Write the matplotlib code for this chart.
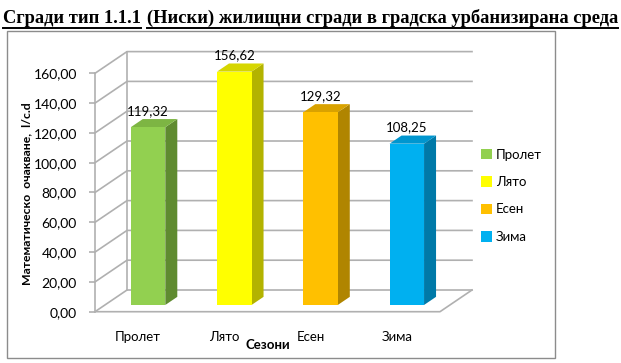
import numpy as np
import matplotlib
matplotlib.use("Agg")
import matplotlib.pyplot as plt
from matplotlib.patches import Polygon, Rectangle, Patch
from matplotlib.lines import Line2D
from matplotlib.ticker import FuncFormatter

# данни
seasons = ["Пролет", "Лято", "Есен", "Зима"]
values = [119.32, 156.62, 129.32, 108.25]
y_ticks = [0, 20, 40, 60, 80, 100, 120, 140, 160]

title_a = "Сгради тип 1.1.1"
title_b = "(Ниски) жилищни сгради в градска урбанизирана среда"
y_title = "Математическо  очакване,  l/c.d"
x_title = "Сезони"

front = ["#92D050", "#FFFF00", "#FFC000", "#00B0F0"]
side = ["#5F8B30", "#B3B300", "#B08500", "#0079A8"]
top = ["#7DB543", "#D6D600", "#D9A200", "#0096CF"]

W, H = 621, 363
FONT = "Lato"
GRID = "#B0B0B0"

# 3D дълбочина в единици на данните
DX, DY = 0.371, 14.56
d0, d1 = 0.31, 0.685
bw = 0.4

fig = plt.figure(figsize=(W / 100, H / 100), dpi=100)

# рамка на диаграмата
fig.patches.append(Rectangle((7 / W, 1 - 358 / H), 548 / W, 327.5 / H,
                             transform=fig.transFigure, fill=False,
                             edgecolor="#8C8C8C", lw=1.0))

ax = fig.add_axes([95 / W, 1 - 311.7 / H, 345 / W, 238.4 / H])
ax.set_xlim(-0.5, 3.5)
ax.set_ylim(0, 160)
ax.patch.set_visible(False)
for s in ["top", "right", "bottom"]:
    ax.spines[s].set_visible(False)
ax.spines["left"].set_color(GRID)
ax.spines["left"].set_linewidth(1.2)

# задна стена, лява стена, под
for v in y_ticks:
    ax.plot([-0.5, -0.5 + DX, 3.5 + DX], [v, v + DY, v + DY],
            color=GRID, lw=1.2, clip_on=False, zorder=1)
ax.plot([-0.5 + DX, -0.5 + DX], [DY, 160 + DY], color=GRID, lw=1.2,
        clip_on=False, zorder=1)
ax.plot([-0.5, 3.5, 3.5 + DX], [0, 0, DY], color=GRID, lw=1.2,
        clip_on=False, zorder=1)

# колони
for i, v in enumerate(values):
    x0 = i - bw / 2 + d0 * DX
    ddx = (d1 - d0) * DX
    b0, b1 = d0 * DY, d1 * DY
    ax.add_patch(Polygon([(x0 + bw, b0), (x0 + bw + ddx, b1),
                          (x0 + bw + ddx, v + b1), (x0 + bw, v + b0)],
                         closed=True, facecolor=side[i], edgecolor="none",
                         zorder=3, clip_on=False))
    ax.add_patch(Polygon([(x0, v + b0), (x0 + bw, v + b0),
                          (x0 + bw + ddx, v + b1), (x0 + ddx, v + b1)],
                         closed=True, facecolor=top[i], edgecolor="none",
                         zorder=3, clip_on=False))
    ax.add_patch(Rectangle((x0, b0), bw, v, facecolor=front[i],
                           edgecolor="none", zorder=4, clip_on=False))
    ax.annotate(f"{v:.2f}".replace(".", ","), (x0 + bw / 2, v + b1),
                xytext=(0, 1.5), textcoords="offset points",
                ha="center", va="bottom", fontsize=9.5, family=FONT,
                zorder=5, annotation_clip=False)

ax.set_yticks(y_ticks)
ax.yaxis.set_major_formatter(FuncFormatter(lambda v, p: f"{v:.2f}".replace(".", ",")))
ax.tick_params(axis="y", length=4, width=1.2, color=GRID, pad=9,
               labelsize=10)
ax.set_xticks(range(len(seasons)))
ax.set_xticklabels(seasons)
ax.tick_params(axis="x", length=0, pad=14, labelsize=9.5)
for lab in ax.get_xticklabels() + ax.get_yticklabels():
    lab.set_family(FONT)

ax.set_xlabel(x_title, fontsize=9.5, fontweight="bold", family=FONT)
ax.xaxis.set_label_coords(0.5, -0.14)
ax.xaxis.label.set_va("center")
ax.set_ylabel(y_title, fontsize=8.8, fontweight="bold", family=FONT)
ax.yaxis.set_label_coords(-0.197, 0.495)
ax.yaxis.label.set_va("center")

handles = [Patch(facecolor=c, edgecolor="none") for c in front]
fig.legend(handles, seasons, loc="upper left",
           bbox_to_anchor=(481 / W, 1 - 148.5 / H), frameon=False,
           prop={"family": FONT, "size": 9.5}, handlelength=0.85,
           handleheight=0.85, handletextpad=0.3, labelspacing=1.17,
           borderpad=0, borderaxespad=0)

# заглавие с подчертаване
t1 = fig.text(3 / W, 1 - 23 / H, title_a, fontsize=13.3, fontweight="bold",
              family="Liberation Serif", ha="left", va="baseline")
fig.canvas.draw()
r = fig.canvas.get_renderer()
e1 = t1.get_window_extent(r)
t2 = fig.text((e1.x1 + 6) / W, 1 - 23 / H, title_b, fontsize=13.3,
              fontweight="bold", family="Liberation Serif", ha="left",
              va="baseline")
e2 = t2.get_window_extent(r)
for e in (e1, e2):
    fig.add_artist(Line2D([e.x0 / W, e.x1 / W], [1 - 27.5 / H, 1 - 27.5 / H],
                          transform=fig.transFigure, color="black", lw=1.4))

fig.savefig("out.png", dpi=100)
